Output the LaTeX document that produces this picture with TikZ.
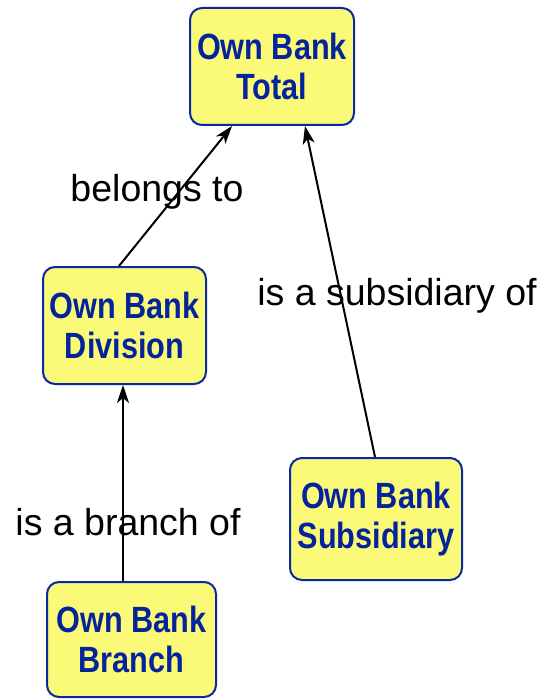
\documentclass[tikz,border=0pt]{standalone}
\usepackage{fontspec}
\setmainfont{Liberation Sans}
\newfontfamily\boxfont[FakeStretch=0.84]{Liberation Sans}
\usetikzlibrary{arrows.meta}
\definecolor{boxfill}{RGB}{250,250,120}
\definecolor{boxline}{RGB}{10,40,160}
\definecolor{boxtext}{RGB}{5,35,155}
\tikzset{
  entity/.style={draw=boxline, fill=boxfill, line width=2pt, rounded corners=12pt,
    align=center, inner sep=0pt, text=boxtext,
    font=\boxfont\bfseries\fontsize{36.5}{40}\selectfont},
  relation/.style={-{Stealth[length=18pt,width=12pt,inset=5pt]}, line width=2pt, black},
  rellabel/.style={anchor=base, inner sep=0pt, font=\fontsize{37.5}{40}\selectfont}
}
\begin{document}
\begin{tikzpicture}[x=1pt,y=-1pt]
  \useasboundingbox (0,0) rectangle (548,700);
  % entities
  \node[entity, minimum width=164pt, minimum height=117pt] (tot) at (272,66.5) {Own Bank\\Total};
  \node[entity, minimum width=163pt, minimum height=117pt] (div) at (124.5,325.5) {Own Bank\\Division};
  \node[entity, minimum width=172pt, minimum height=122pt] (sub) at (376,519) {Own Bank\\Subsidiary};
  \node[entity, minimum width=169pt, minimum height=115pt] (bra) at (131.5,639.5) {Own Bank\\Branch};
  % relations
  \draw[relation] ([xshift=-5.5pt]div.north) -- ([xshift=-40pt]tot.south);
  \draw[relation] ([xshift=-1pt]sub.north) -- ([xshift=33pt]tot.south);
  \draw[relation] ([xshift=-8.5pt]bra.north) -- ([xshift=-1.5pt]div.south);
  % labels
  \node[rellabel] (l1) at (157,202) {belongs to};
  \node[rellabel] (l2) at (397,305) {is a subsidiary of};
  \node[rellabel] (l3) at (128,535) {is a branch of};
\end{tikzpicture}
\end{document}
